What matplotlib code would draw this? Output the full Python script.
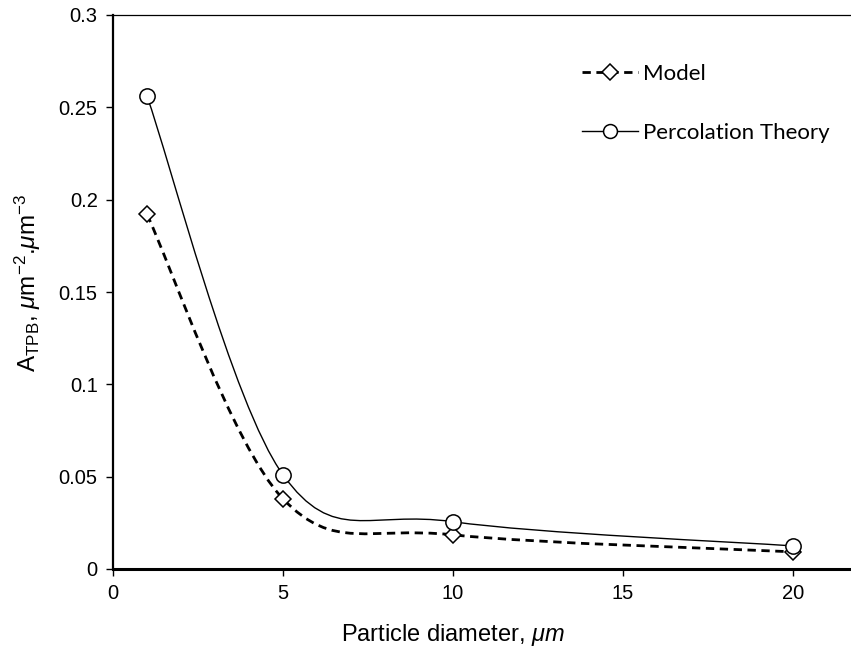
"""A_TPB vs particle diameter: model vs percolation theory"""

import matplotlib

matplotlib.use("Agg")

import matplotlib.pyplot as plt
import numpy as np
from matplotlib.lines import Line2D
from matplotlib.patches import PathPatch
from matplotlib.path import Path

# data
diameter = [1, 5, 10, 20]
model = [0.192, 0.038, 0.0185, 0.0093]
percolation = [0.256, 0.051, 0.0256, 0.0125]

x_ticks = [0, 5, 10, 15, 20]
y_ticks = [0, 0.05, 0.1, 0.15, 0.2, 0.25, 0.3]
y_tick_labels = ["0", "0.05", "0.1", "0.15", "0.2", "0.25", "0.3"]

plt.rcParams["font.family"] = ["Liberation Sans", "DejaVu Sans"]
plt.rcParams["mathtext.fontset"] = "custom"
plt.rcParams["mathtext.rm"] = "Liberation Sans"
plt.rcParams["mathtext.it"] = "Liberation Sans:italic"


def smooth_path(xs, ys) -> Path:
    """Excel-like smoothed line: cubic Bezier through the points."""
    pts = np.column_stack([xs, ys]).astype(float)
    n = len(pts)
    verts = [pts[0]]
    codes = [Path.MOVETO]
    for i in range(n - 1):
        prev = pts[max(i - 1, 0)]
        nxt = pts[min(i + 2, n - 1)]
        c1 = pts[i] + (pts[i + 1] - prev) / 6.0
        c2 = pts[i + 1] - (nxt - pts[i]) / 6.0
        verts += [c1, c2, pts[i + 1]]
        codes += [Path.CURVE4] * 3
    return Path(verts, codes)


def main() -> None:
    fig = plt.figure(figsize=(8.51, 6.56), dpi=100)
    ax = fig.add_axes([113 / 851, 87 / 656, 748 / 851, 554 / 656])

    dash = (3, 2)
    ax.add_patch(
        PathPatch(
            smooth_path(diameter, model),
            fill=False,
            edgecolor="black",
            linewidth=2.0,
            linestyle=(0, dash),
            zorder=2,
        )
    )
    ax.add_patch(
        PathPatch(
            smooth_path(diameter, percolation),
            fill=False,
            edgecolor="black",
            linewidth=1.0,
            zorder=2,
        )
    )
    ax.plot(
        diameter, model, ls="none", marker="D", ms=8.5,
        mfc="white", mec="black", mew=1.1, zorder=3,
    )
    ax.plot(
        diameter, percolation, ls="none", marker="o", ms=11,
        mfc="white", mec="black", mew=1.1, zorder=4,
    )

    ax.set_xlim(0, 22)
    ax.set_ylim(0, 0.3)
    ax.set_xticks(x_ticks)
    ax.set_yticks(y_ticks)
    ax.set_yticklabels(y_tick_labels)
    ax.tick_params(direction="out", length=5, width=1, labelsize=14.5, pad=6)

    ax.spines["right"].set_visible(False)
    ax.spines["top"].set_linewidth(0.9)
    ax.spines["left"].set_linewidth(1.6)
    ax.spines["bottom"].set_linewidth(2.2)

    ax.set_xlabel(r"Particle diameter, $\mathit{\mu m}$", fontsize=17)
    ax.xaxis.set_label_coords(10 / 22, -0.095)
    ax.set_ylabel(
        r"A$_{\mathrm{TPB}}$, $\mathit{\mu}$m$^{\mathrm{-2}}$.$\mathit{\mu}$m$^{\mathrm{-3}}$",
        fontsize=17.5,
    )
    ax.yaxis.set_label_coords(-0.093, 0.516)

    handles = [
        Line2D([], [], color="black", lw=2.0, dashes=dash, marker="D", ms=8,
               mfc="white", mec="black", mew=1.1),
        Line2D([], [], color="black", lw=1.0, marker="o", ms=10,
               mfc="white", mec="black", mew=1.1),
    ]
    fig.legend(
        handles,
        ["Model", "Percolation Theory"],
        loc="upper left",
        bbox_to_anchor=(582 / 851, 1 - 64 / 656),
        frameon=False,
        numpoints=1,
        handlelength=2.5,
        handletextpad=0.25,
        labelspacing=1.75,
        borderpad=0,
        borderaxespad=0,
        prop={"family": ["Lato", "DejaVu Sans"], "size": 16},
    )

    fig.savefig("out.png", dpi=100)
    plt.close(fig)


if __name__ == "__main__":
    main()
